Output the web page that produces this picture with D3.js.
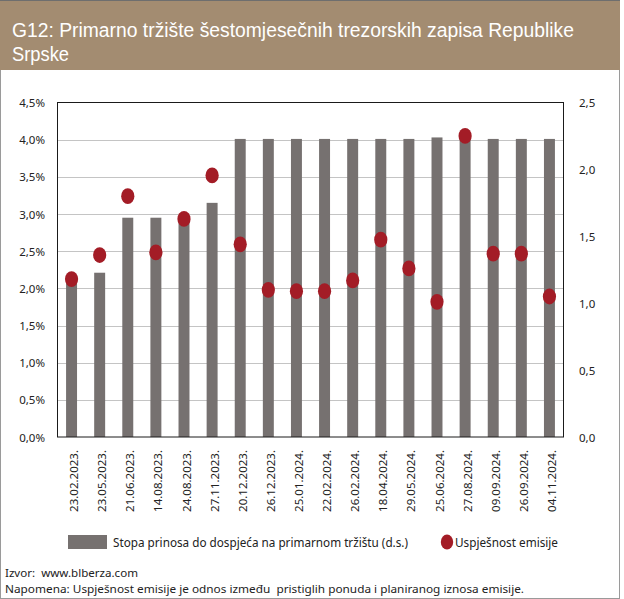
<!DOCTYPE html>
<html>
<head>
<meta charset="utf-8">
<script src="https://cdn.jsdelivr.net/npm/d3@7"></script>
<style>
  html, body { margin: 0; padding: 0; background: #fff; }
  svg { display: block; }
  text { font-family: "Noto Sans", "DejaVu Sans", sans-serif; }
  text.title { font-family: "Liberation Sans", Arial, sans-serif; }
</style>
</head>
<body>
<svg id="chart" width="624" height="599"></svg>
<script>
const categories = ["23.02.2023.", "23.05.2023.", "21.06.2023.", "14.08.2023.", "24.08.2023.", "27.11.2023.",
  "20.12.2023.", "26.12.2023.", "25.01.2024.", "22.02.2024.", "26.02.2024.", "18.04.2024.",
  "29.05.2024.", "25.06.2024.", "27.08.2024.", "09.09.2024.", "26.09.2024.", "04.11.2024."];
const yieldValues = [2.12, 2.21, 2.95, 2.95, 2.97, 3.15, 4.01, 4.01, 4.01, 4.01, 4.01, 4.01,
  4.01, 4.03, 4.01, 4.01, 4.01, 4.01];
const successValues = [1.18, 1.36, 1.80, 1.38, 1.63, 1.955, 1.44, 1.10, 1.09, 1.09, 1.17, 1.475,
  1.26, 1.01, 2.25, 1.37, 1.37, 1.05];
const leftTicks = [0, 0.5, 1.0, 1.5, 2.0, 2.5, 3.0, 3.5, 4.0, 4.5];
const rightTicks = [0, 0.5, 1.0, 1.5, 2.0, 2.5];
const titleLines = ["G12: Primarno tržište šestomjesečnih trezorskih zapisa Republike", "Srpske"];
const legendLabels = ["Stopa prinosa do dospjeća na primarnom tržištu (d.s.)", "Uspješnost emisije"];
const sourceText = "Izvor:  www.blberza.com";
const noteText = "Napomena: Uspješnost emisije je odnos između  pristiglih ponuda i planiranog iznosa emisije.";

const svg = d3.select("#chart");
const barColor = "#767170";
const dotColor = "#a31c26";
const fmt = v => v.toFixed(1).replace(".", ",");

// frame and header
svg.append("rect").attr("x", 0.5).attr("y", 0.5).attr("width", 619).attr("height", 598)
  .attr("fill", "#fff").attr("stroke", "#9a9a9a").attr("stroke-width", 1);
svg.append("rect").attr("x", 0).attr("y", 0).attr("width", 620).attr("height", 70).attr("fill", "#a38c71");
svg.append("line").attr("x1", 0).attr("x2", 620).attr("y1", 0.5).attr("y2", 0.5).attr("stroke", "#6e6e6e");

const titleT = svg.selectAll("text.title").data(titleLines).join("text")
  .attr("class", "title")
  .attr("x", 12).attr("y", (d, i) => 37 + i * 24)
  .attr("fill", "#fff").attr("font-size", 19.5)
  .text(d => d);
titleT.filter((d, i) => i === 0).attr("textLength", 562).attr("lengthAdjust", "spacingAndGlyphs");
titleT.filter((d, i) => i === 1).attr("textLength", 57).attr("lengthAdjust", "spacingAndGlyphs");

// plot
const x0 = 57.5, x1 = 563.5, yTop = 102.5, yBot = 437;
const x = d3.scaleBand().domain(categories).range([x0, x1]).paddingInner(0.61).paddingOuter(0.305);
const yL = d3.scaleLinear().domain([0, 4.5]).range([yBot, yTop]);
const yR = d3.scaleLinear().domain([0, 2.5]).range([yBot, yTop]);

// gridlines
svg.append("g").selectAll("line").data(leftTicks.filter(t => t > 0 && t < 4.5)).join("line")
  .attr("x1", x0).attr("x2", x1)
  .attr("y1", d => Math.round(yL(d)) + 0.5).attr("y2", d => Math.round(yL(d)) + 0.5)
  .attr("stroke", "#c4c4c4").attr("stroke-width", 1);

// bars
svg.append("g").selectAll("rect").data(yieldValues).join("rect")
  .attr("x", (d, i) => x(categories[i]))
  .attr("width", x.bandwidth())
  .attr("y", d => yL(d))
  .attr("height", d => yBot - yL(d))
  .attr("fill", barColor);

// frame
svg.append("rect").attr("x", x0).attr("y", yTop).attr("width", x1 - x0).attr("height", yBot - yTop)
  .attr("fill", "none").attr("stroke", "#1a1a1a").attr("stroke-width", 1);

// dots
svg.append("g").selectAll("ellipse").data(successValues).join("ellipse")
  .attr("cx", (d, i) => x(categories[i]) + x.bandwidth() / 2)
  .attr("cy", d => yR(d))
  .attr("rx", 6.6).attr("ry", 7.9)
  .attr("fill", dotColor);

// left axis
const axL = d3.axisLeft(yL).tickValues(leftTicks).tickSize(0).tickPadding(0).tickFormat(d => fmt(d) + "%");
const gL = svg.append("g").attr("transform", `translate(45,0)`).call(axL);
gL.select(".domain").remove();
gL.selectAll("text").attr("font-size", 11.5).attr("fill", "#222").attr("dy", "0.35em");

// right axis
const axR = d3.axisRight(yR).tickValues(rightTicks).tickSize(0).tickPadding(0).tickFormat(fmt);
const gR = svg.append("g").attr("transform", `translate(579,0)`).call(axR);
gR.select(".domain").remove();
gR.selectAll("text").attr("font-size", 11.5).attr("fill", "#222").attr("dy", "0.35em");

// x axis labels
svg.append("g").selectAll("text").data(categories).join("text")
  .attr("transform", d => `translate(${x(d) + x.bandwidth() / 2 + 2.5},450) rotate(-90)`)
  .attr("text-anchor", "end").attr("dy", "0.35em")
  .attr("font-size", 11.5).attr("fill", "#222")
  .text(d => d);

// legend
svg.append("rect").attr("x", 68).attr("y", 535).attr("width", 39).attr("height", 14).attr("fill", barColor);
svg.append("text").attr("x", 113).attr("y", 546.5).attr("font-size", 12).attr("fill", "#222")
  .attr("textLength", 295).attr("lengthAdjust", "spacingAndGlyphs").text(legendLabels[0]);
svg.append("ellipse").attr("cx", 447).attr("cy", 542).attr("rx", 6.2).attr("ry", 7.5).attr("fill", dotColor);
svg.append("text").attr("x", 455).attr("y", 546.5).attr("font-size", 12).attr("fill", "#222")
  .attr("textLength", 103).attr("lengthAdjust", "spacingAndGlyphs").text(legendLabels[1]);

// footer
svg.append("text").attr("x", 5).attr("y", 577).attr("font-size", 11.5).attr("fill", "#222")
  .style("white-space", "pre").attr("textLength", 133).attr("lengthAdjust", "spacingAndGlyphs").text(sourceText);
svg.append("text").attr("x", 5).attr("y", 592.5).attr("font-size", 11.5).attr("fill", "#222")
  .style("white-space", "pre").attr("textLength", 519).attr("lengthAdjust", "spacingAndGlyphs").text(noteText);
</script>
</body>
</html>
